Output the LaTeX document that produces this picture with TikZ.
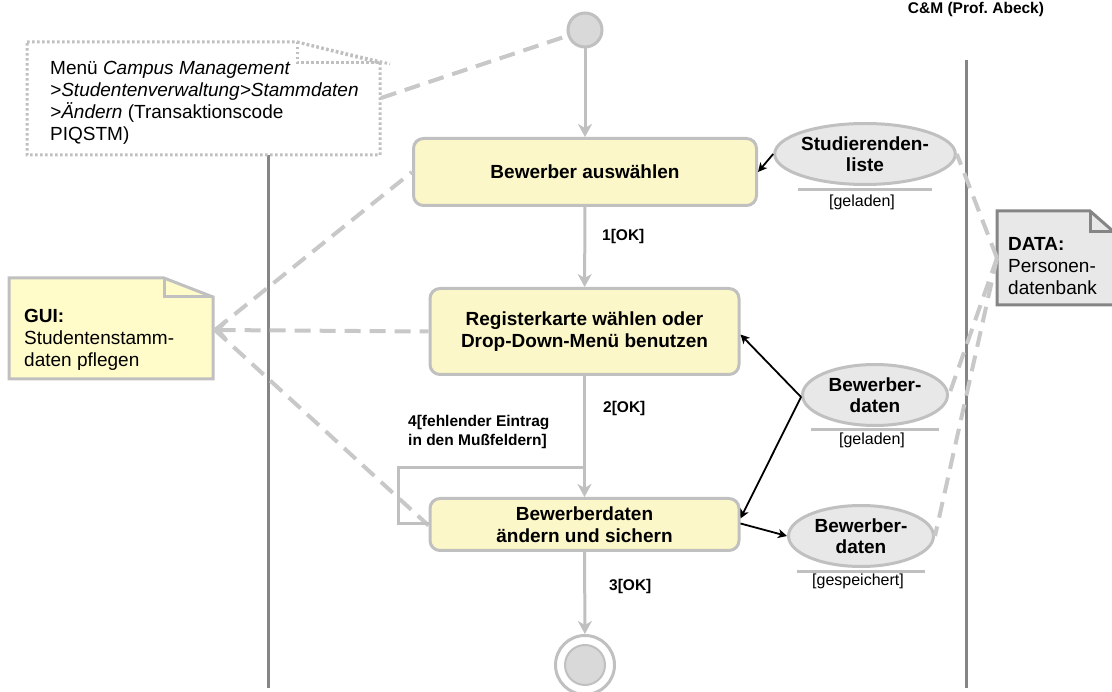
\documentclass[tikz,border=0pt]{standalone}
\usepackage{fontspec}
\setmainfont{Liberation Sans}
\usetikzlibrary{arrows.meta,shapes.geometric,calc}
\definecolor{actfill}{HTML}{FCF7C8}
\definecolor{notefill}{HTML}{FFFCCA}
\definecolor{lgray}{HTML}{C0C0C0}
\definecolor{dashgray}{HTML}{C8C8C8}
\definecolor{dgray}{HTML}{858585}
\definecolor{objfill}{HTML}{E8E8E8}
\definecolor{dotfill}{HTML}{D9D9D9}
\frenchspacing

\begin{document}
\begin{tikzpicture}[x=1pt,y=-1pt,
  txt/.style={font=\fontsize{19}{22}\selectfont,inner sep=0,align=left},
  activity/.style={draw=lgray,line width=3pt,fill=actfill,rounded corners=10pt,
    align=center,font=\fontsize{19}{22}\selectfont\bfseries,inner sep=0},
  objnode/.style={ellipse,draw=lgray,line width=3pt,fill=objfill,minimum width=145pt,
    minimum height=61pt,inner sep=0,align=center,font=\fontsize{19}{21}\selectfont\bfseries},
  objstate/.style={font=\fontsize{16}{18}\selectfont,inner sep=0},
  stateline/.style={draw=lgray,line width=3pt},
  guard/.style={font=\fontsize{15.5}{19}\selectfont\bfseries,inner sep=0,align=left,anchor=west},
  flow/.style={draw=lgray,line width=3pt,-{Stealth[length=13pt,width=14pt,inset=4pt]}},
  objflow/.style={draw=black,line width=1.8pt,-{Stealth[length=9pt,width=9pt,inset=2.5pt]}},
  trace/.style={draw=dashgray,line width=4pt,dash pattern=on 16pt off 9pt},
  tracetip/.style={{Straight Barb[length=8pt,width=18pt,line width=4pt]}-},
  lane/.style={draw=dgray,line width=3pt},
  dotted note/.style={draw=lgray,line width=3pt,dash pattern=on 2.5pt off 2.5pt},
]
\useasboundingbox (0,0) rectangle (1112,692);

% swimlane separators
\draw[lane] (268,155) -- (268,688);
\draw[lane] (966,60) -- (966,688);

% header
\node[font=\fontsize{15.5}{17}\selectfont\bfseries,inner sep=0] (hdr) at (976,9) {C\&M (Prof. Abeck)};

% menu path note (dotted)
\draw[dotted note,fill=white] (27,42) -- (297,42) -- (380,63) -- (380,155) -- (27,155) -- cycle;
\draw[dotted note] (297,42) -- (297,63) -- (380,63);
\draw[dotted note] (297,42) -- (390,64);
\node[txt,anchor=west] (menu) at (50,103) {Menü \textit{Campus Management}\\
  \textit{>Studentenverwaltung>Stammdaten}\\
  \textit{>Ändern} (Transaktionscode\\PIQSTM)};
\coordinate (menuR) at (381,98);

% GUI note
\draw[draw=lgray,line width=3pt,fill=notefill] (9,278) -- (164,278) -- (213,297) -- (213,379) -- (9,379) -- cycle;
\draw[draw=lgray,line width=3pt] (164,278) -- (164,297) -- (213,297);
\node[txt,anchor=west] (gui) at (24,340) {\textbf{GUI:}\\Studentenstamm-\\daten pflegen};
\coordinate (guiE) at (215,330);

% DATA note
\draw[draw=dgray,line width=3pt,fill=objfill] (997,211) -- (1090,211) -- (1114,232) -- (1114,305) -- (997,305) -- cycle;
\draw[draw=dgray,line width=3pt] (1090,211) -- (1090,232) -- (1114,232);
\node[txt,anchor=west] (data) at (1008,266) {\textbf{DATA:}\\Personen-\\datenbank};
\coordinate (dataW) at (997,258);

% initial and final nodes
\node[circle,draw=lgray,line width=3pt,fill=dotfill,minimum size=34pt,inner sep=0] (start) at (585,30) {};
\node[circle,draw=lgray,line width=3pt,fill=white,minimum size=59pt,inner sep=0] (stop) at (585,665) {};
\node[circle,draw=lgray,line width=2pt,fill=dotfill,minimum size=40pt,inner sep=0] (stopin) at (585,665) {};

% actions
\node[activity,minimum width=343pt,minimum height=67pt] (b1) at (585,172) {Bewerber auswählen};
\node[activity,minimum width=309pt,minimum height=86pt] (b2) at (584.5,331.5) {Registerkarte wählen oder\\Drop-Down-Menü benutzen};
\node[activity,minimum width=309pt,minimum height=52pt] (b3) at (584.5,524.5) {Bewerberdaten\\ändern und sichern};

% object nodes
\node[objnode] (sl) at (865,154) {Studierenden-\\liste};
\draw[stateline] ([xshift=-67pt,yshift=-4pt]sl.south) -- ([xshift=67pt,yshift=-4pt]sl.south);
\node[objstate] (slst) at (862,202) {[geladen]};

\node[objnode] (bd1) at (875,395) {Bewerber-\\daten};
\draw[stateline] ([xshift=-64pt,yshift=-3pt]bd1.south) -- ([xshift=64pt,yshift=-3pt]bd1.south);
\node[objstate] (bd1st) at (872,440) {[geladen]};

\node[objnode] (bd2) at (861,536) {Bewerber-\\daten};
\draw[stateline] ([xshift=-64pt,yshift=-3pt]bd2.south) -- ([xshift=64pt,yshift=-3pt]bd2.south);
\node[objstate] (bd2st) at (858,581) {[gespeichert]};

% traces to notes
\draw[trace] (menuR) -- (start);
\draw[trace] (guiE) -- (b1.west);
\draw[trace,tracetip] (guiE) -- (b2.west);
\draw[trace] (guiE) -- ([yshift=-1pt]b3.west);
\draw[trace] (dataW) -- (sl.east);
\draw[trace] (dataW) -- (bd1.east);
\draw[trace] (dataW) -- (bd2.east);

% control flow
\coordinate (mrg) at (584.5,468);
\draw[flow] (start) -- (b1);
\draw[flow] (b1) -- (b2);
\draw[flow] (b2) -- (b3);
\draw[flow] (b3) -- (stop);
\draw[draw=lgray,line width=3pt] ([yshift=1pt]b3.west) -- ++(-30,0) |- (mrg);

% guards
\node[guard] (g1) at (602,236) {1[OK]};
\node[guard] (g2) at (603,408) {2[OK]};
\node[guard] (g3) at (609,586) {3[OK]};
\node[guard] (g4) at (408,431.5) {4[fehlender Eintrag\\in den Mußfeldern]};

% object flows
\draw[objflow] (sl.west) -- (b1.east);
\coordinate (bd1W) at (801,397);
\draw[objflow] (bd1W) -- ([yshift=-3pt]b2.east);
\draw[objflow] (bd1W) -- ([yshift=6pt]b3.east);
\draw[objflow] ([yshift=1pt]b3.east) -- (bd2.west);
\end{tikzpicture}
\end{document}
